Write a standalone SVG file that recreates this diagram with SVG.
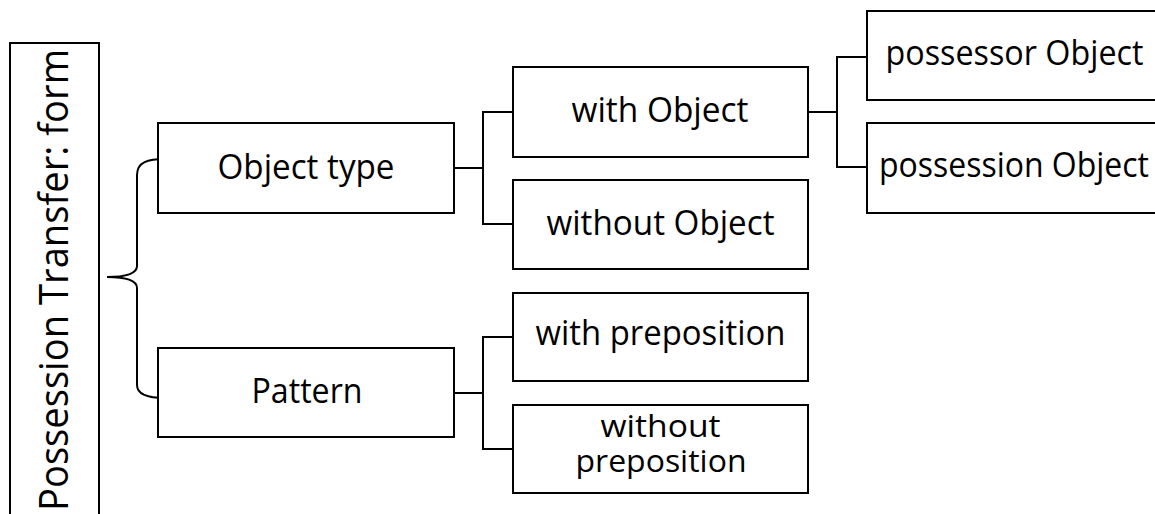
<svg xmlns="http://www.w3.org/2000/svg" width="1155" height="514" viewBox="0 0 1155 514">
<style>
.n{fill:#fff;stroke:#000;stroke-width:2}
.c{fill:none;stroke:#000;stroke-width:2}
text{font-family:"Open Sans","Liberation Sans",sans-serif;font-size:34px;fill:#000;text-anchor:middle}
</style>
<rect width="1155" height="514" fill="#fff"/>
<g id="connectors">
<path class="c" d="M165,159 C148,159 137,162 137,175 L137,266 C137,273 128,277 107,277 C128,277 137,281 137,288 L137,385 C137,394 148,398 165,398"/>
<path class="c" d="M454,168 H483 M513,112 H483 V224 H513"/>
<path class="c" d="M454,393 H483 M513,337 H483 V449 H513"/>
<path class="c" d="M808,112 H837 M867,57 H837 V167 H867"/>
</g>
<g id="root">
<rect class="n" x="10" y="43" width="89" height="490"/>
<text transform="translate(68,280) rotate(-90)" style="font-size:40px" textLength="462" lengthAdjust="spacingAndGlyphs">Possession Transfer: form</text>
</g>
<g id="object-type">
<rect class="n" x="158" y="123" width="296" height="90"/>
<text x="306" y="179" textLength="177" lengthAdjust="spacingAndGlyphs">Object type</text>
</g>
<g id="pattern">
<rect class="n" x="158" y="348" width="296" height="89"/>
<text x="307" y="403" textLength="111" lengthAdjust="spacingAndGlyphs">Pattern</text>
</g>
<g id="with-object">
<rect class="n" x="513" y="67" width="295" height="90"/>
<text x="660" y="122" textLength="177" lengthAdjust="spacingAndGlyphs">with Object</text>
</g>
<g id="without-object">
<rect class="n" x="513" y="180" width="295" height="89"/>
<text x="660.5" y="235" textLength="228" lengthAdjust="spacingAndGlyphs">without Object</text>
</g>
<g id="with-preposition">
<rect class="n" x="513" y="293" width="295" height="88"/>
<text x="660.5" y="345" textLength="250" lengthAdjust="spacingAndGlyphs">with preposition</text>
</g>
<g id="without-preposition">
<rect class="n" x="513" y="405" width="295" height="88"/>
<text x="660.5" y="437" style="font-size:31px" textLength="120" lengthAdjust="spacingAndGlyphs">without</text>
<text x="661" y="472" style="font-size:31px" textLength="171" lengthAdjust="spacingAndGlyphs">preposition</text>
</g>
<g id="possessor-object">
<rect class="n" x="867" y="11" width="295" height="89"/>
<text x="1014.5" y="65" textLength="258" lengthAdjust="spacingAndGlyphs">possessor Object</text>
</g>
<g id="possession-object">
<rect class="n" x="867" y="123" width="295" height="90"/>
<text x="1014" y="177" textLength="270" lengthAdjust="spacingAndGlyphs">possession Object</text>
</g>
</svg>
